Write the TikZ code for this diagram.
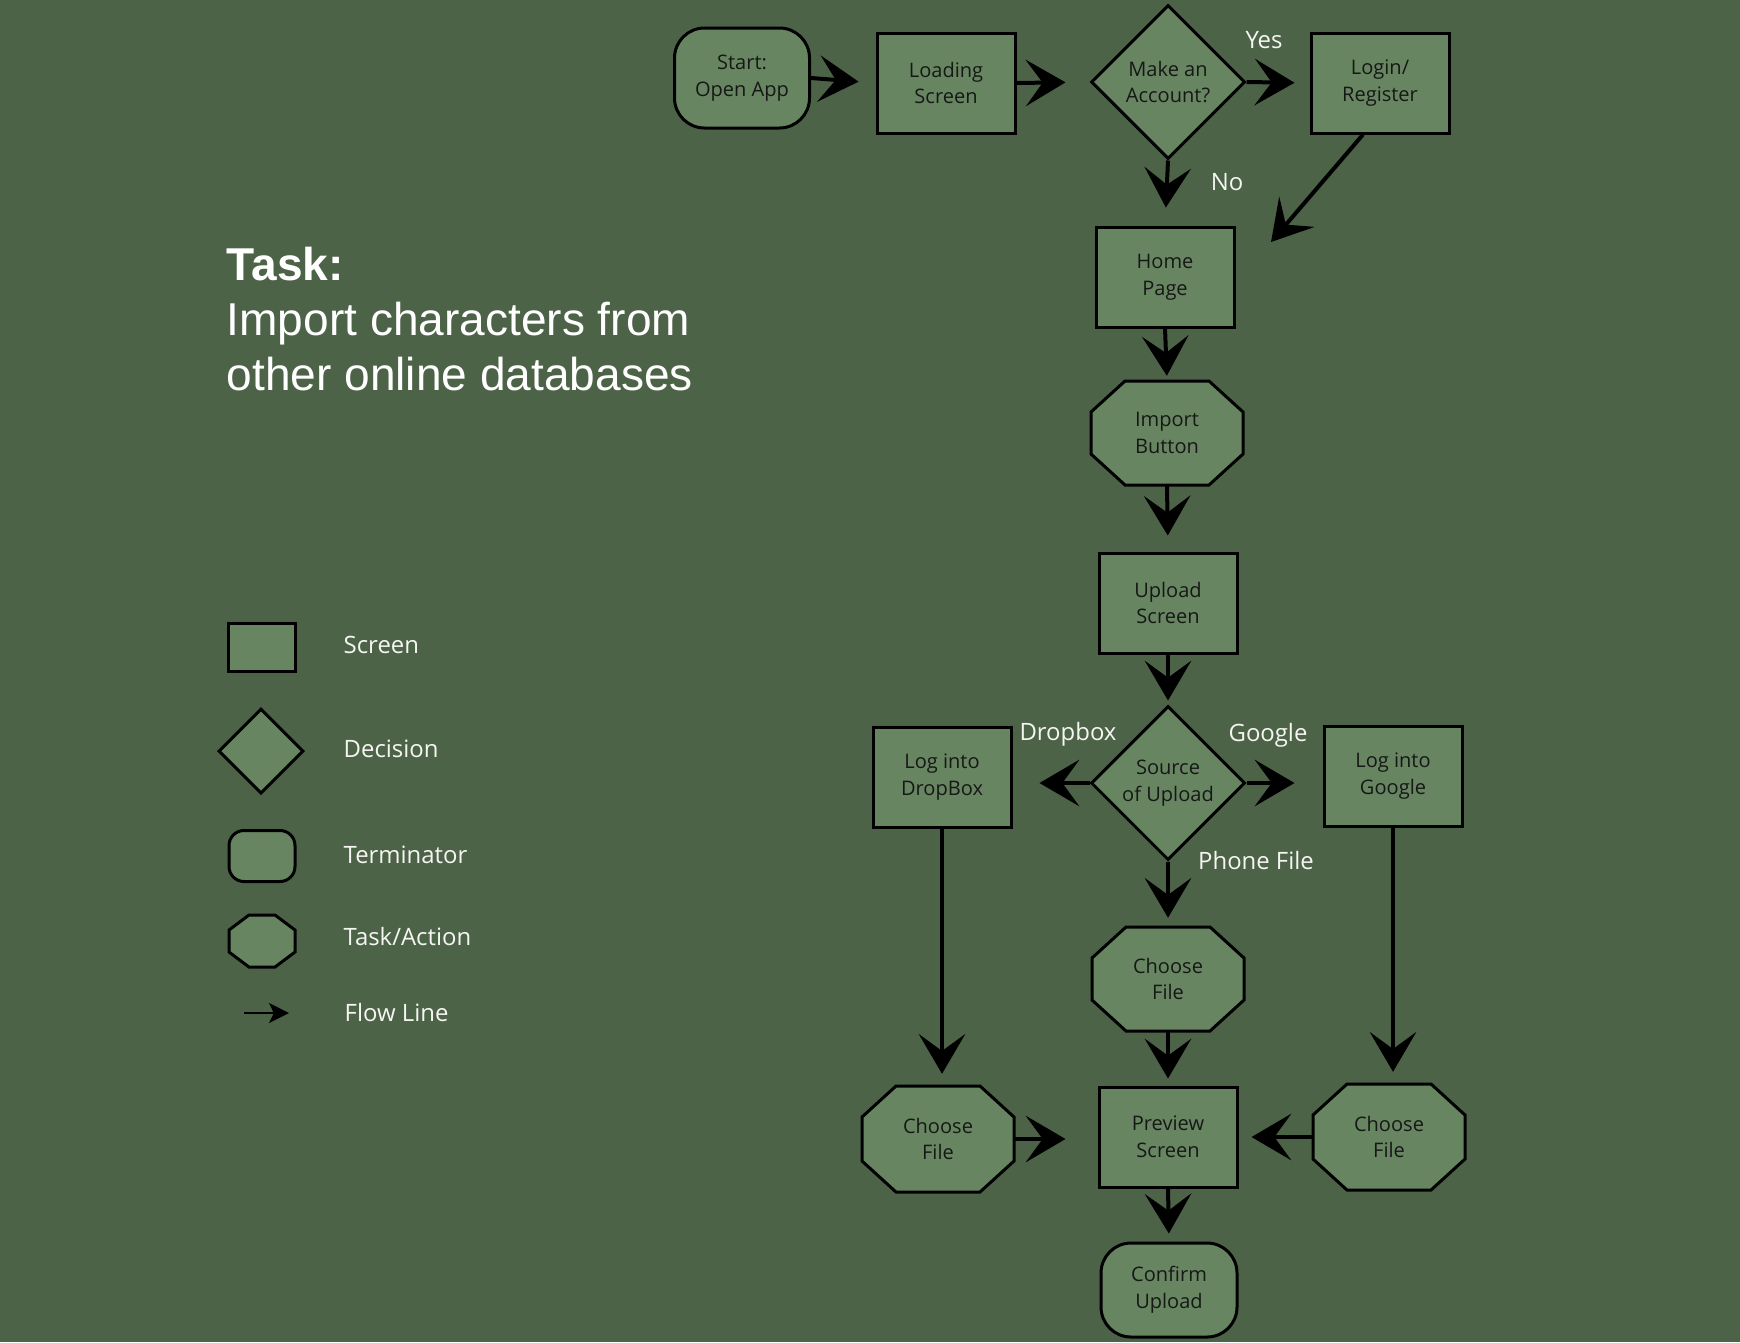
\documentclass[tikz,border=0pt]{standalone}
\usepackage{fontspec}
\setmainfont{Open Sans}
\newfontfamily\titlefont{Liberation Sans}
\usetikzlibrary{shapes.geometric, arrows.meta, calc}
\definecolor{bg}{RGB}{77,99,72}
\definecolor{nfill}{RGB}{104,133,98}
\definecolor{ink}{RGB}{22,24,22}
\definecolor{lighttext}{RGB}{245,245,242}
\newdimen\px \px=0.01cm
% octagon: centre x, centre y, half width, half height, chamfer x, chamfer y
\newcommand\octa[6]{%
  \path[shp] (#1-#3+#5,#2-#4) -- (#1+#3-#5,#2-#4) -- (#1+#3,#2-#4+#6) -- (#1+#3,#2+#4-#6)
    -- (#1+#3-#5,#2+#4) -- (#1-#3+#5,#2+#4) -- (#1-#3,#2+#4-#6) -- (#1-#3,#2-#4+#6) -- cycle;}
\begin{document}
\begin{tikzpicture}[x=0.01cm,y=-0.01cm,
  shp/.style={draw=black, fill=nfill, line width=3\px},
  txt/.style={font=\fontsize{5.7}{7.6}\selectfont, text=ink, align=center},
  screen/.style={shp, txt, rectangle, minimum width=138\px, minimum height=100\px, inner sep=0pt},
  decision/.style={shp, txt, diamond, minimum width=154\px, minimum height=154\px, inner sep=0pt},
  term/.style={shp, txt, rectangle, rounded corners=30\px, minimum width=135\px, minimum height=100\px, inner sep=0pt},
  octbox/.style={txt, rectangle, minimum width=152\px, minimum height=105\px, inner sep=0pt},
  flow/.style={line width=4\px, -{Stealth[length=11.3pt, width=13.2pt, inset=4.8pt]}},
  lbl/.style={font=\fontsize{6.8}{8}\selectfont, text=lighttext, inner sep=0pt},
  leglbl/.style={font=\fontsize{6.8}{8}\selectfont, text=lighttext, anchor=west, inner sep=0pt},
  ttl/.style={font=\titlefont\fontsize{13.1}{15}\selectfont, text=white, anchor=base west, inner sep=0pt},
]
\useasboundingbox (0,0) rectangle (1740,1342);
\fill[bg] (0,0) rectangle (1740,1342);

% ---------- title ----------
\node[ttl, font=\titlefont\bfseries\fontsize{13.1}{15}\selectfont] (t1) at (226,280) {Task:};
\node[ttl] (t2) at (226,335) {Import characters from};
\node[ttl] (t3) at (226,390) {other online databases};

% ---------- legend ----------
\node[shp, rectangle, minimum width=67\px, minimum height=48\px, inner sep=0pt] (lscreen) at (262,647) {};
\node[leglbl] (lscreenT) at (343,645) {Screen};
\node[shp, diamond, minimum width=85\px, minimum height=85\px, inner sep=0pt] (ldec) at (261,751) {};
\node[leglbl] (ldecT) at (343,749) {Decision};
\node[shp, rectangle, rounded corners=15\px, minimum width=66\px, minimum height=51\px, inner sep=0pt] (lterm) at (262,856) {};
\node[leglbl] (ltermT) at (343,855) {Terminator};
\octa{262}{941}{33}{26}{20}{15}
\node[rectangle, minimum width=66\px, minimum height=52\px, inner sep=0pt] (ltask) at (262,941) {};
\node[leglbl] (ltaskT) at (343,937) {Task/Action};
\coordinate (lf1) at (244,1013);
\coordinate (lf2) at (289,1013);
\draw[line width=2\px, -{Stealth[length=5.7pt, width=5.7pt, inset=1.4pt]}] (lf1) -- (lf2);
\node[leglbl] (lflowT) at (344,1013) {Flow Line};

% ---------- flowchart nodes ----------
\node[term] (start) at (742,78) {Start:\\Open App};
\node[screen] (loading) at (946,83) {Loading\\Screen};
\node[decision] (acct) at (1168,82) {Make an\\Account?};
\node[screen] (login) at (1380,83) {Login/\\Register};
\node[screen] (home) at (1165,277) {Home\\Page};
\octa{1167}{433}{76}{52}{34}{31}
\node[octbox] (import) at (1167,433) {Import\\Button};
\node[screen] (upload) at (1168,603) {Upload\\Screen};
\node[decision] (source) at (1168,783) {Source\\of Upload};
\node[screen] (dropbox) at (942,777) {Log into\\DropBox};
\node[screen] (google) at (1393,776) {Log into\\Google};
\octa{1168}{979}{76}{52}{34}{31}
\node[octbox] (choosemid) at (1168,979) {Choose\\File};
\octa{938}{1139}{76}{53}{34}{31}
\node[octbox] (chooseleft) at (938,1139) {Choose\\File};
\octa{1389}{1137}{76}{53}{34}{31}
\node[octbox] (chooseright) at (1389,1137) {Choose\\File};
\node[screen] (preview) at (1168,1137) {Preview\\Screen};
\node[term, minimum height=94\px, minimum width=136\px] (confirm) at (1169,1290) {Confirm\\Upload};

% ---------- labels ----------
\node[lbl] (yes) at (1264,40) {Yes};
\node[lbl] (no) at (1227,182) {No};
\node[lbl] (ldrop) at (1068,734) {Dropbox};
\node[lbl] (lgoog) at (1268,735) {Google};
\node[lbl] (lphone) at (1256,861) {Phone File};

% ---------- connectors ----------
\draw[flow, shorten >=17\px] (start.east) -- (loading.west);
\draw[flow, shorten >=24\px] (loading.east) -- (acct.west);
\draw[flow, shorten >=15\px] (acct.east) -- (login.west);
\draw[flow, shorten >=18\px] (acct.south) -- (home.north);
\coordinate (homein) at (1271,242);
\draw[flow] ([xshift=-17\px]login.south) -- (homein);
\draw[flow, shorten >=4\px] (home.south) -- (import.north);
\draw[flow, shorten >=16\px] (import.south) -- (upload.north);
\draw[flow, shorten >=4\px] (upload.south) -- (source.north);
\draw[flow, shorten >=27\px] (source.west) -- (source.west -| dropbox.east);
\draw[flow, shorten >=28\px] (source.east) -- (source.east -| google.west);
\draw[flow, shorten >=8\px] (source.south) -- (choosemid.north);
\draw[flow, shorten >=7\px] (choosemid.south) -- (preview.north);
\draw[flow, shorten >=12\px] (dropbox.south) -- (dropbox.south |- chooseleft.north);
\draw[flow, shorten >=12\px] (google.south) -- (google.south |- chooseright.north);
\draw[flow, shorten >=32\px] (chooseleft.east) -- (chooseleft.east -| preview.west);
\draw[flow, shorten >=13\px] (chooseright.west) -- (chooseright.west -| preview.east);
\draw[flow, shorten >=8\px] (preview.south) -- (confirm.north);
\end{tikzpicture}
\end{document}
